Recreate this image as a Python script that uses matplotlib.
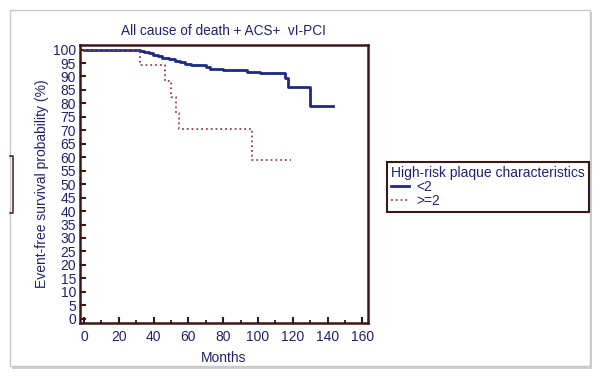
import matplotlib
matplotlib.use("Agg")
import matplotlib.pyplot as plt
from matplotlib.lines import Line2D
from matplotlib.patches import Rectangle
from matplotlib.ticker import MultipleLocator

plt.rcParams['font.family'] = ['Liberation Sans', 'DejaVu Sans']

# Kaplan-Meier step data (months, survival %)
low_t = [0, 32.4, 34.7, 37.6, 39.9, 42.4, 44.9, 49.1, 52.0, 54.9, 57.8, 61.7,
         70.3, 72.3, 80.0, 93.4, 101.0, 115.6, 117.0, 130.0, 143.0]
low_s = [100, 99.6, 99.1, 98.8, 98.1, 97.5, 96.9, 96.4, 95.7, 95.2, 94.7, 94.2,
         93.4, 92.8, 92.3, 91.8, 91.3, 89.5, 86.0, 79.0, 79.0]
high_t = [0, 32.4, 46.8, 50.1, 53.0, 54.5, 96.3, 119.0]
high_s = [100, 94.1, 88.2, 82.4, 76.5, 70.6, 58.8, 58.8]

labels = ['<2', '>=2']
title = 'All cause of death + ACS+  vI-PCI'
legend_title = 'High-risk plaque characteristics'

navy = '#1f2270'
brown = '#3a1818'
blue = '#1c2a84'
red = '#8a4848'

W, H = 600, 376
fig = plt.figure(figsize=(W / 100, H / 100), dpi=100)
fig.patch.set_facecolor('white')

# card with shadow
fig.add_artist(Rectangle((12 / W, 1 - 369 / H), 580 / W, 357 / H,
                         transform=fig.transFigure, facecolor='#cfcfcf',
                         edgecolor='none', zorder=-3))
fig.add_artist(Rectangle((10 / W, 1 - 366 / H), 580 / W, 356 / H,
                         transform=fig.transFigure, facecolor='white',
                         edgecolor='#c8c8c8', lw=1.0, zorder=-2))

# small bracket at the left edge
bx = [10 / W, 13 / W, 13 / W, 10 / W]
by = [1 - 156 / H, 1 - 156 / H, 1 - 213 / H, 1 - 213 / H]
fig.add_artist(Line2D(bx, by, transform=fig.transFigure, color='#5a2a30', lw=1.2))

ax = fig.add_axes([79.5 / W, 1 - 323 / H, 288.2 / W, 278 / H])
ax.step(low_t, low_s, where='post', color=blue, lw=2.0, label=labels[0])
ax.step(high_t, high_s, where='post', color=red, lw=1.3, ls=':', label=labels[1])

ax.set_xlim(-2.6, 163)
ax.set_ylim(-1.6, 101.7)
ax.xaxis.set_major_locator(MultipleLocator(20))
ax.xaxis.set_minor_locator(MultipleLocator(10))
ax.yaxis.set_major_locator(MultipleLocator(5))
ax.tick_params(which='both', direction='in', colors=brown, labelcolor=navy,
               labelsize=10, top=False, right=False)
ax.tick_params(which='major', length=4.5, width=1.5, pad=5)
ax.tick_params(which='minor', length=2.5, width=1.3)
ax.tick_params(axis='y', pad=2.5)
for s in ax.spines.values():
    s.set_color(brown)
    s.set_linewidth(1.8)

ax.set_title(title, color=navy, fontsize=9.8, pad=7)
ax.set_xlabel('Months', color=navy, fontsize=10, labelpad=5)
ax.set_ylabel('Event-free survival probability (%)', color=navy, fontsize=10, labelpad=3)

leg = ax.legend(title=legend_title, loc='upper left',
                bbox_to_anchor=(380 / W, 1 - 155 / H), bbox_transform=fig.transFigure,
                fontsize=10, title_fontsize=10, handlelength=1.3, handletextpad=0.5,
                labelspacing=0.0, borderpad=0.3, fancybox=False, alignment='left',
                labelcolor=navy)
leg.get_title().set_color(navy)
fr = leg.get_frame()
fr.set_edgecolor(brown)
fr.set_linewidth(1.5)
fr.set_alpha(1)

fig.savefig('out.png', dpi=100)
